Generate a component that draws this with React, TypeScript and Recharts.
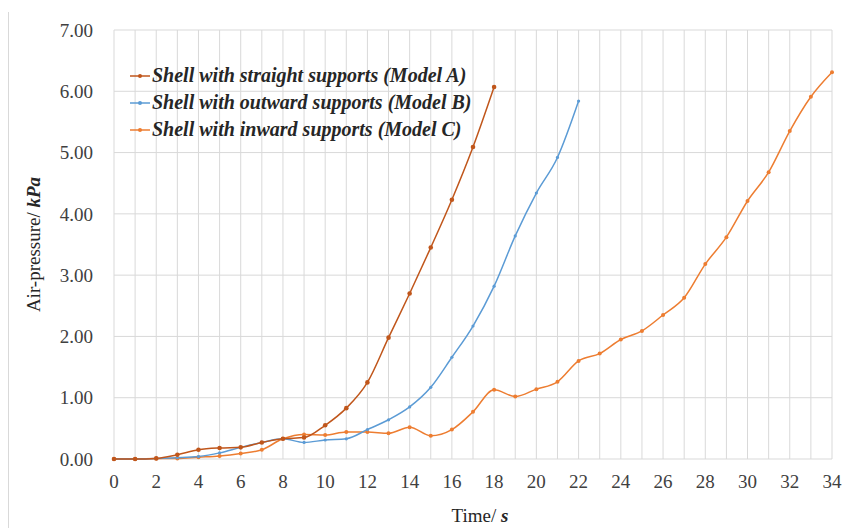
import { CartesianGrid, Label, Line, LineChart, XAxis, YAxis } from "recharts";

const time = [0, 1, 2, 3, 4, 5, 6, 7, 8, 9, 10, 11, 12, 13, 14, 15, 16, 17, 18, 19, 20, 21, 22, 23, 24, 25, 26, 27, 28, 29, 30, 31, 32, 33, 34];

const modelA = [0, 0, 0.01, 0.07, 0.15, 0.18, 0.19, 0.27, 0.33, 0.35, 0.55, 0.83, 1.25, 1.98, 2.7, 3.45, 4.23, 5.09, 6.07];
const modelB = [0, 0, 0.01, 0.02, 0.04, 0.1, 0.19, 0.27, 0.33, 0.27, 0.31, 0.33, 0.48, 0.64, 0.85, 1.17, 1.66, 2.17, 2.82, 3.64, 4.34, 4.92, 5.84];
const modelC = [0, 0, 0.01, 0.01, 0.03, 0.05, 0.09, 0.15, 0.33, 0.4, 0.39, 0.44, 0.44, 0.42, 0.52, 0.38, 0.48, 0.77, 1.13, 1.02, 1.14, 1.26, 1.6, 1.72, 1.95, 2.09, 2.35, 2.63, 3.18, 3.62, 4.21, 4.68, 5.35, 5.91, 6.31];

const yTicks = [0, 1, 2, 3, 4, 5, 6, 7];

const seriesNames = [
  "Shell with straight supports (Model A)",
  "Shell with outward supports (Model B)",
  "Shell with inward supports (Model C)",
];

const COLORS = ["#c0561b", "#5b9bd5", "#ed7d31"];
const FONT = "'Liberation Serif', 'Times New Roman', serif";

const data = time.map((t, i) => ({ t, a: modelA[i], b: modelB[i], c: modelC[i] }));

function XTick(props: any) {
  const { x, y, payload } = props;
  if (payload.value % 2 !== 0) return <g />;
  return (
    <text x={x} y={y} dy="0.71em" textAnchor="middle" fontFamily={FONT} fontSize={19} fill="#404040">
      {payload.value}
    </text>
  );
}

function LegendBox() {
  return (
    <div
      style={{
        position: "absolute",
        left: 130,
        top: 62,
        fontFamily: FONT,
        fontSize: 20,
        fontWeight: "bold",
        fontStyle: "italic",
        color: "#262626",
        lineHeight: "27px",
      }}
    >
      {seriesNames.map((name, i) => (
        <div key={name} style={{ display: "flex", alignItems: "center", height: 27 }}>
          <svg width={20} height={10} style={{ marginRight: 2 }}>
            <line x1={0} y1={5} x2={20} y2={5} stroke={COLORS[i]} strokeWidth={1.5} />
            <circle cx={10} cy={5} r={2} fill={COLORS[i]} />
          </svg>
          <span>{name}</span>
        </div>
      ))}
    </div>
  );
}

export default function App() {
  return (
    <div style={{ position: "absolute", left: 0, top: 0, width: 844, height: 528, background: "#fff" }}>
      <div style={{ position: "absolute", left: 8, top: 12, bottom: 0, borderLeft: "1px solid #d9d9d9" }} />
      <LineChart width={844} height={528} data={data} margin={{ top: 30, right: 12, left: 0, bottom: 0 }}>
        <CartesianGrid stroke="#d9d9d9" strokeWidth={1} />
        <XAxis
          type="number"
          dataKey="t"
          domain={[0, 34]}
          ticks={time}
          interval={0}
          height={69}
          axisLine={false}
          tickLine={false}
          tickSize={0}
          tickMargin={16}
          tick={<XTick />}
        >
          <Label
            content={(p: any) => {
              const vb = p.viewBox;
              return (
                <text x={vb.x + vb.width / 2 + 7} y={vb.y + 63} textAnchor="middle" fontFamily={FONT} fontSize={19} fill="#262626">
                  Time/ <tspan fontStyle="italic" fontWeight="bold">s</tspan>
                </text>
              );
            }}
          />
        </XAxis>
        <YAxis
          type="number"
          domain={[0, 7]}
          ticks={yTicks}
          width={114}
          axisLine={false}
          tickLine={false}
          tickSize={0}
          tickMargin={21}
          tickFormatter={(v: number) => v.toFixed(2)}
          tick={{ fontFamily: FONT, fontSize: 19, fill: "#404040" }}
        >
          <Label
            content={(p: any) => {
              const vb = p.viewBox;
              const cx = vb.x + 36;
              const cy = vb.y + vb.height / 2;
              return (
                <text x={cx} y={cy} transform={`rotate(-90 ${cx} ${cy})`} textAnchor="middle" dominantBaseline="middle" fontFamily={FONT} fontSize={19} fill="#262626">
                  Air-pressure/ <tspan fontStyle="italic" fontWeight="bold">kPa</tspan>
                </text>
              );
            }}
          />
        </YAxis>
        <Line type="monotone" dataKey="c" stroke={COLORS[2]} strokeWidth={1.5} dot={{ r: 2, fill: COLORS[2], strokeWidth: 0 }} isAnimationActive={false} />
        <Line type="monotone" dataKey="b" stroke={COLORS[1]} strokeWidth={1.5} dot={{ r: 1.6, fill: COLORS[1], strokeWidth: 0 }} isAnimationActive={false} />
        <Line type="monotone" dataKey="a" stroke={COLORS[0]} strokeWidth={1.5} dot={{ r: 2.3, fill: COLORS[0], strokeWidth: 0 }} isAnimationActive={false} />
      </LineChart>
      <LegendBox />
    </div>
  );
}
